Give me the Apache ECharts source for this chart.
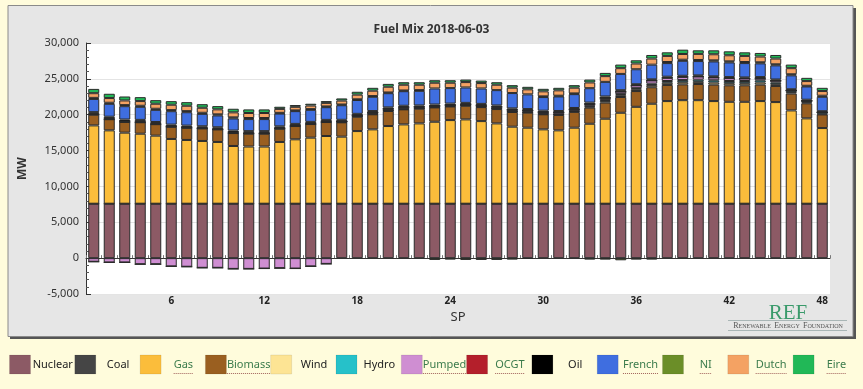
<!DOCTYPE html>
<html><head><meta charset="utf-8">
<script src="https://cdn.jsdelivr.net/npm/echarts@6/dist/echarts.min.js"></script>
<style>html,body{margin:0;padding:0;background:#fffcdc;}#chart{width:863px;height:389px;}</style>
</head><body><div id="chart"></div>
<script>
// ---- data ----
const SP = ['1','2','3','4','5','6','7','8','9','10','11','12','13','14','15','16','17','18','19','20','21','22','23','24',
  '25','26','27','28','29','30','31','32','33','34','35','36','37','38','39','40','41','42','43','44','45','46','47','48'];
const X_TICK_LABELS = ['6','12','18','24','30','36','42','48'];
const Y_TICKS = [-5000, 0, 5000, 10000, 15000, 20000, 25000, 30000];

const nuclear = [7590,7590,7590,7590,7590,7590,7590,7590,7590,7590,7590,7590,7590,7590,7590,7590,7590,7590,7590,7590,7590,7590,7590,7590,
  7590,7590,7590,7590,7590,7590,7590,7590,7590,7590,7590,7590,7590,7590,7590,7590,7590,7590,7590,7590,7590,7590,7590,7590];
const coal = [0,0,0,0,0,0,0,0,0,0,0,0,0,0,0,0,0,0,0,0,0,0,0,0,0,0,0,0,0,0,0,0,0,0,0,0,0,0,0,0,0,0,0,0,0,0,0,0];
const gas = [10920,10230,9910,9760,9490,9030,8890,8750,8610,8050,7970,7970,8610,8980,9210,9440,9350,10130,10370,10830,11060,11200,11430,11660,
  11760,11520,11200,10740,10600,10370,10230,10600,11150,11850,12680,13510,13940,14310,14440,14440,14310,14210,14210,14310,14170,13010,11900,10550];
const biomass = [1500,1550,1500,1600,1600,1700,1700,1750,1750,1800,1800,1800,1850,1850,1900,1950,2000,2000,2100,2100,2100,2050,2000,1900,
  1900,1950,2000,2050,2100,2100,2150,2200,2250,2250,2200,2200,2300,2250,2200,2250,2300,2300,2300,2300,2250,2350,2100,1900];
const wind = [0,0,0,0,0,0,0,0,0,0,0,0,0,0,0,0,50,50,50,50,50,50,50,50,
  50,50,50,50,50,50,50,100,150,200,250,250,300,300,300,300,300,300,300,300,250,200,150,100];
const hydro = [50,50,50,50,50,50,50,50,50,50,50,50,50,50,50,50,50,50,50,50,50,50,50,50,
  50,50,50,50,50,50,50,50,100,150,150,150,200,250,300,300,300,300,300,300,250,250,200,200];
const pumped = [-500,-600,-600,-850,-850,-1150,-1200,-1350,-1350,-1500,-1500,-1450,-1400,-1450,-1150,-800,0,100,150,200,200,150,100,100,
  100,150,200,200,200,200,250,200,250,300,350,400,450,450,450,450,400,400,350,300,250,0,0,0];
const ocgt = [0,0,0,0,0,0,0,0,0,0,0,0,0,0,0,0,0,0,0,0,0,0,0,0,0,0,0,0,0,0,0,0,0,0,0,0,0,0,0,0,0,0,0,0,0,0,0,0];
const oil = [300,300,280,280,250,250,250,250,250,300,300,300,280,250,250,250,250,200,200,200,200,200,200,200,
  200,200,200,200,200,200,200,200,200,200,200,150,150,150,150,150,150,150,150,150,150,150,150,150];
const french = [1840,1800,1860,1820,1700,1870,1870,1730,1650,1690,1680,1680,1780,1780,1680,1770,2030,1930,1990,1980,2030,2040,2240,2160,
  2150,2150,2140,2140,2050,1900,2030,1930,2010,2040,2270,2090,2050,1900,2090,2000,2080,2040,2000,1910,1970,1940,1850,2010];
const ni = [150,150,150,150,150,150,150,150,150,150,150,150,100,100,100,100,100,100,100,100,100,100,-250,-200,
  -250,-250,-250,-200,-100,100,100,100,-200,-200,-300,-200,-200,150,150,150,150,150,150,150,150,150,100,150];
const dutch = [650,650,650,650,700,750,750,700,700,700,700,700,550,500,500,500,550,650,750,800,800,750,800,750,
  750,750,750,750,700,700,750,800,800,800,800,800,850,850,800,850,850,850,850,800,800,850,650,650];
const eire = [600,600,550,550,500,500,500,500,450,500,500,500,300,250,250,250,300,400,400,400,350,350,350,350,
  350,350,350,350,350,350,350,350,400,450,500,450,500,500,600,500,550,550,500,500,500,500,450,450];

// ---- styles ----
const SERIES = [
  {name:'Nuclear', data:nuclear, color:'#8c5a65', link:false},
  {name:'Coal', data:coal, color:'#454545', link:false},
  {name:'Gas', data:gas, color:'#fbbd3b', link:true},
  {name:'Biomass', data:biomass, color:'#9a5f20', link:true},
  {name:'Wind', data:wind, color:'#fde494', link:false},
  {name:'Hydro', data:hydro, color:'#26c1c9', link:false},
  {name:'Pumped', data:pumped, color:'#cf8ed2', link:true},
  {name:'OCGT', data:ocgt, color:'#b41f2b', link:true},
  {name:'Oil', data:oil, color:'#000000', link:false},
  {name:'French', data:french, color:'#3f6ee0', link:true},
  {name:'NI', data:ni, color:'#6b8e28', link:true},
  {name:'Dutch', data:dutch, color:'#f4a263', link:true},
  {name:'Eire', data:eire, color:'#21b857', link:true}
];

const FONT = '"Noto Sans", sans-serif';
const chart = echarts.init(document.getElementById('chart'), null, {renderer:'canvas'});

const measure = (() => { const c = document.createElement('canvas').getContext('2d');
  return (t, f) => { c.font = f; return c.measureText(t).width; }; })();

const graphics = [];
// panel
graphics.push({type:'rect', z:-10, shape:{x:10, y:8, width:846, height:331}, style:{fill:'#555'}});
graphics.push({type:'rect', z:-9, shape:{x:8, y:5.5, width:845, height:331}, style:{fill:'#e6e6e6', stroke:'#8a8a8a', lineWidth:1}});
// legend
SERIES.forEach((s, i) => {
  const x0 = 9.5 + 65.3 * i;
  graphics.push({type:'rect', shape:{x:x0, y:355, width:21, height:19}, style:{fill:s.color, stroke:'rgba(0,0,0,0.08)'}});
  const cx = x0 + 21 + 22.3;
  const f = '11px ' + FONT;
  graphics.push({type:'text', x:cx, y:365, style:{text:s.name, font:f, fill: s.link ? '#3b7b4c' : '#222', align:'center', verticalAlign:'middle'}});
  if (s.link) {
    const w = measure(s.name, f);
    graphics.push({type:'line', shape:{x1:cx - w/2, y1:373.5, x2:cx + w/2, y2:373.5}, style:{stroke:'#a0605a', lineWidth:1, lineDash:[1,1]}});
  }
});
// logo
graphics.push({type:'text', x:788, y:313, style:{text:'REF', font:'21px "Liberation Serif", serif', fill:'#3a9a6b', align:'center', verticalAlign:'middle'}});
graphics.push({type:'line', shape:{x1:728, y1:320.5, x2:847, y2:320.5}, style:{stroke:'#9aa', lineWidth:0.8}});
graphics.push({type:'line', shape:{x1:728, y1:330.5, x2:847, y2:330.5}, style:{stroke:'#9aa', lineWidth:0.8}});
graphics.push({type:'text', x:788, y:326, style:{
  text:'{a|R}{b|ENEWABLE} {a|E}{b|NERGY} {a|F}{b|OUNDATION}', align:'center', verticalAlign:'middle',
  rich:{a:{font:'8px "Liberation Serif", serif', fill:'#555'}, b:{font:'6px "Liberation Serif", serif', fill:'#555'}}}});

const option = {
  animation:false,
  backgroundColor:'#fffcdc',
  title:{text:'Fuel Mix 2018-06-03', left:'center', top:19, textStyle:{fontFamily:FONT, fontSize:12, fontWeight:'bold', color:'#333'}},
  grid:{left:86, top:43, width:744, height:251, show:true, backgroundColor:'#ffffff', borderWidth:0},
  xAxis:{type:'category', data:SP, name:'SP', nameLocation:'middle', nameGap:11,
    nameTextStyle:{fontFamily:FONT, fontSize:13, color:'#333'},
    axisLine:{onZero:true, lineStyle:{color:'#333', width:1}},
    axisTick:{show:true, inside:true, length:3, interval:0, lineStyle:{color:'#777'}},
    axisLabel:{interval:(i, v) => X_TICK_LABELS.includes(v), fontFamily:FONT, fontSize:10, fontWeight:'bold', color:'#222', margin:2},
    splitLine:{show:false}},
  yAxis:{type:'value', min:Y_TICKS[0], max:Y_TICKS[Y_TICKS.length-1], interval:Y_TICKS[1]-Y_TICKS[0],
    name:'MW', nameLocation:'middle', nameGap:57, nameTextStyle:{fontFamily:FONT, fontSize:12, fontWeight:'bold', color:'#333'},
    axisLine:{show:true, lineStyle:{color:'#333'}},
    axisTick:{show:true, inside:true, length:5, lineStyle:{color:'#333'}},
    minorTick:{show:true, splitNumber:5, length:3, lineStyle:{color:'#555'}},
    axisLabel:{fontFamily:FONT, fontSize:11, color:'#333', margin:7, formatter:v => v.toLocaleString('en-US')},
    splitLine:{show:true, lineStyle:{color:'#e4e4e4'}}},
  graphic:graphics,
  series:SERIES.map(s => ({name:s.name, type:'bar', stack:'mix', data:s.data, barCategoryGap:'29%',
    itemStyle:{color:s.color, borderColor:'#2a2a2a', borderWidth:1}}))
};
chart.setOption(option);
</script></body></html>
